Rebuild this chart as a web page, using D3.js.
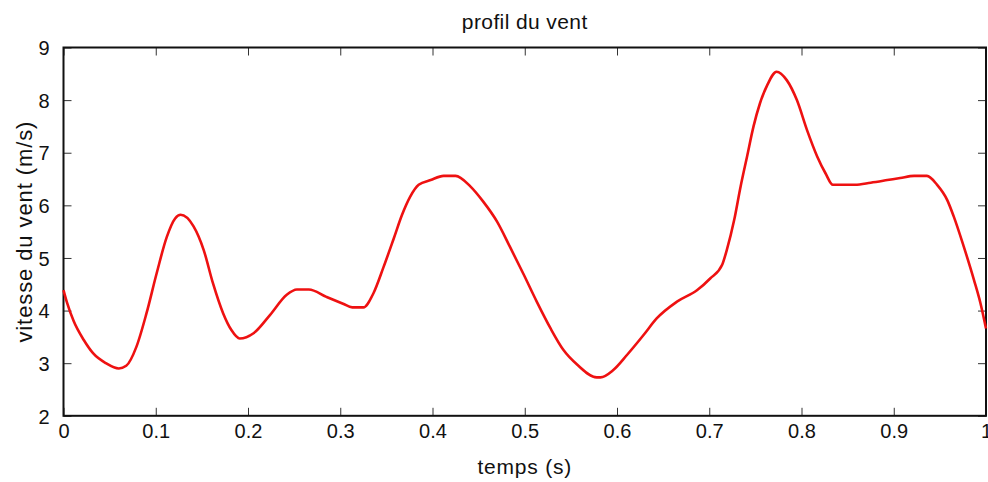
<!DOCTYPE html>
<html>
<head>
<meta charset="utf-8">
<script src="https://cdn.jsdelivr.net/npm/d3@7"></script>
<style>
  html, body { margin: 0; padding: 0; background: #fff; }
  svg { display: block; }
  text { font-family: "Liberation Sans", Arial, sans-serif; fill: #111; }
</style>
</head>
<body>
<svg id="chart" width="988" height="482"></svg>
<script>
// Wind profile samples: time (s) and wind speed (m/s)
const time = [
  0.000, 0.004, 0.011, 0.022, 0.032, 0.046, 0.060, 0.068, 0.079, 0.090,
  0.101, 0.112, 0.121, 0.127, 0.141, 0.152, 0.162, 0.173, 0.182, 0.191,
  0.206, 0.224, 0.242, 0.253, 0.266, 0.285, 0.303, 0.313, 0.325, 0.336,
  0.347, 0.358, 0.367, 0.376, 0.385, 0.398, 0.412, 0.425, 0.441, 0.455,
  0.470, 0.484, 0.499, 0.513, 0.528, 0.542, 0.557, 0.578, 0.582, 0.596,
  0.611, 0.629, 0.643, 0.665, 0.687, 0.701, 0.714, 0.719, 0.727, 0.734,
  0.741, 0.748, 0.755, 0.763, 0.773, 0.784, 0.795, 0.806, 0.817, 0.826,
  0.834, 0.858, 0.875, 0.893, 0.907, 0.922, 0.936, 0.947, 0.958, 0.965,
  0.976, 0.987, 0.994, 1.000
];
const speed = [
  4.39, 4.14, 3.80, 3.44, 3.19, 3.00, 2.90, 2.95, 3.31, 3.95,
  4.71, 5.40, 5.75, 5.82, 5.60, 5.15, 4.52, 3.95, 3.63, 3.47,
  3.57, 3.92, 4.30, 4.40, 4.40, 4.26, 4.13, 4.06, 4.06, 4.33,
  4.83, 5.37, 5.82, 6.17, 6.39, 6.48, 6.56, 6.56, 6.36, 6.07,
  5.69, 5.21, 4.68, 4.17, 3.66, 3.25, 2.97, 2.73, 2.73, 2.87,
  3.16, 3.54, 3.85, 4.17, 4.39, 4.61, 4.87, 5.15, 5.72, 6.36,
  6.93, 7.50, 7.94, 8.29, 8.54, 8.38, 8.00, 7.43, 6.93, 6.61,
  6.39, 6.39, 6.43, 6.48, 6.52, 6.56, 6.56, 6.39, 6.10, 5.79,
  5.21, 4.58, 4.14, 3.66
];
const xTicks = [0, 0.1, 0.2, 0.3, 0.4, 0.5, 0.6, 0.7, 0.8, 0.9, 1];
const yTicks = [2, 3, 4, 5, 6, 7, 8, 9];

const titleText = "profil du vent";
const xLabelText = "temps (s)";
const yLabelText = "vitesse du vent (m/s)";

const svg = d3.select("#chart");
const plotLeft = 63.5, plotRight = 986, plotTop = 47.5, plotBottom = 415.8;

const x = d3.scaleLinear().domain([0, 1]).range([plotLeft, plotRight]);
const y = d3.scaleLinear().domain([2, 9]).range([plotBottom, plotTop]);

const tickLen = 8;

// Bottom axis with inward ticks
const gx = svg.append("g")
  .attr("transform", `translate(0,${plotBottom})`)
  .call(d3.axisBottom(x).tickValues(xTicks).tickFormat(d3.format("~g"))
    .tickSizeInner(-tickLen).tickSizeOuter(0).tickPadding(18));
// Top axis ticks only
const gxTop = svg.append("g")
  .attr("transform", `translate(0,${plotTop})`)
  .call(d3.axisTop(x).tickValues(xTicks).tickFormat("")
    .tickSizeInner(-tickLen).tickSizeOuter(0));
// Left axis with inward ticks
const gy = svg.append("g")
  .attr("transform", `translate(${plotLeft},0)`)
  .call(d3.axisLeft(y).tickValues(yTicks).tickFormat(d3.format("d"))
    .tickSizeInner(-tickLen).tickSizeOuter(0).tickPadding(14));
// Right axis ticks only
const gyRight = svg.append("g")
  .attr("transform", `translate(${plotRight},0)`)
  .call(d3.axisRight(y).tickValues(yTicks).tickFormat("")
    .tickSizeInner(-tickLen).tickSizeOuter(0));

[gx, gxTop, gy, gyRight].forEach(g => {
  g.select(".domain").remove();
  g.selectAll(".tick line").attr("stroke", "#333").attr("stroke-width", 1);
  g.selectAll(".tick text")
    .attr("font-family", "Liberation Sans, Arial, sans-serif")
    .attr("font-size", 20)
    .attr("fill", "#111");
});
gx.selectAll(".tick text").attr("dy", "0.2em");
gy.selectAll(".tick text").attr("dy", "0.36em");

// Frame around the plotting area
svg.append("rect")
  .attr("x", plotLeft).attr("y", plotTop)
  .attr("width", plotRight - plotLeft).attr("height", plotBottom - plotTop)
  .attr("fill", "none").attr("stroke", "#111").attr("stroke-width", 2);

// Wind speed curve
const line = d3.line()
  .x((d, i) => x(time[i]))
  .y(d => y(d))
  .curve(d3.curveMonotoneX);

svg.append("path")
  .datum(speed)
  .attr("d", line)
  .attr("fill", "none")
  .attr("stroke", "#ee1111")
  .attr("stroke-width", 2.6)
  .attr("stroke-linejoin", "round");

// Title and axis labels
svg.append("text")
  .attr("x", (plotLeft + plotRight) / 2).attr("y", 29)
  .attr("text-anchor", "middle")
  .attr("font-size", 21)
  .attr("letter-spacing", 0.4)
  .text(titleText);

svg.append("text")
  .attr("x", (plotLeft + plotRight) / 2).attr("y", 474)
  .attr("text-anchor", "middle")
  .attr("font-size", 21)
  .attr("letter-spacing", 0.8)
  .text(xLabelText);

svg.append("text")
  .attr("transform", `translate(32,${(plotTop + plotBottom) / 2}) rotate(-90)`)
  .attr("text-anchor", "middle")
  .attr("font-size", 22)
  .attr("letter-spacing", 0.9)
  .text(yLabelText);
</script>
</body>
</html>
